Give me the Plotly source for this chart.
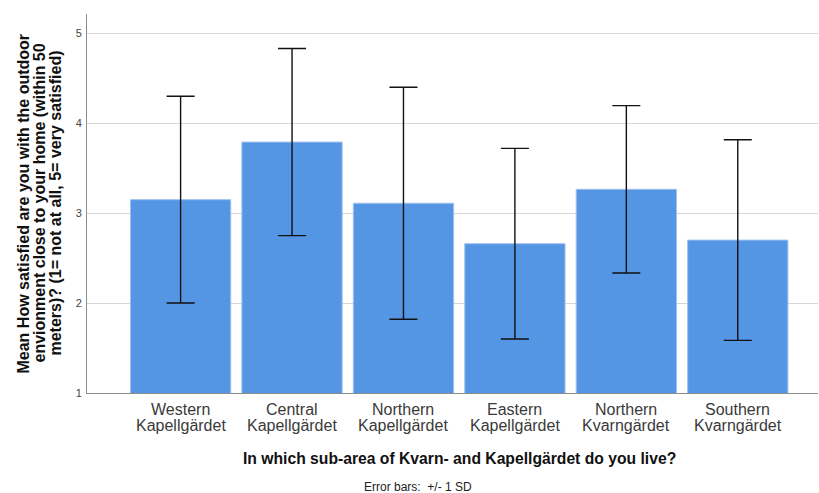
import plotly.graph_objects as go

# Sub-areas (two-line labels) and satisfaction summary (mean, standard deviation)
area_line1 = ["Western", "Central", "Northern", "Eastern", "Northern", "Southern"]
area_line2 = ["Kapellgärdet", "Kapellgärdet", "Kapellgärdet",
              "Kapellgärdet", "Kvarngärdet", "Kvarngärdet"]
means = [3.15, 3.79, 3.11, 2.66, 3.265, 2.70]
sds = [1.15, 1.04, 1.29, 1.06, 0.93, 1.115]
y_ticks = [1, 2, 3, 4, 5]
y_title_lines = ["Mean How satisfied are you with the outdoor",
                 "envionment close to your home (within 50",
                 "meters)? (1= not at all, 5= very satisfied)"]

FONT = "Liberation Sans, Arial, sans-serif"
W, H = 819, 493
ML, MR, MT, MB = 87, 1, 14, 100
PW, PH = W - ML - MR, H - MT - MB


def px_x(p):
    return (p - ML) / PW


def px_y(p):
    return (H - MB - p) / PH


positions = list(range(len(means)))

fig = go.Figure(go.Bar(
    x=positions,
    y=means,
    width=0.9,
    marker=dict(color="#5596e4", line=dict(color="#9fc2ee", width=1)),
    error_y=dict(type="data", array=sds, visible=True, color="#111111",
                 thickness=1.4, width=14),
    hoverinfo="skip",
))

annotations = []
# Category labels, two lines each, placed on the category axis
for i, (a, b) in enumerate(zip(area_line1, area_line2)):
    annotations.append(dict(text=a, xref="x", yref="paper", x=i, y=px_y(409),
                            xanchor="center", yanchor="middle", showarrow=False,
                            font=dict(size=16, color="#3a3a3a", family=FONT)))
    annotations.append(dict(text=b, xref="x", yref="paper", x=i, y=px_y(425),
                            xanchor="center", yanchor="middle", showarrow=False,
                            font=dict(size=16, color="#3a3a3a", family=FONT)))

# Rotated y-axis title, one annotation per line
for line, xc in zip(y_title_lines, [23, 39, 55]):
    annotations.append(dict(text="<b>" + line + "</b>", xref="paper", yref="paper",
                            x=px_x(xc), y=0.5, xanchor="center", yanchor="middle",
                            textangle=-90, showarrow=False,
                            font=dict(size=16, color="#111111", family=FONT)))

annotations.append(dict(text="<b>In which sub-area of Kvarn- and Kapellgärdet do you live?</b>",
                        xref="paper", yref="paper", x=px_x(459), y=px_y(458),
                        xanchor="center", yanchor="middle", showarrow=False,
                        font=dict(size=15.7, color="#111111", family=FONT)))
annotations.append(dict(text="Error bars:  +/- 1 SD",
                        xref="paper", yref="paper", x=px_x(418), y=px_y(487),
                        xanchor="center", yanchor="middle", showarrow=False,
                        font=dict(size=12, color="#222222", family=FONT)))

fig.update_layout(
    width=W, height=H,
    margin=dict(l=ML, r=MR, t=MT, b=MB),
    plot_bgcolor="white", paper_bgcolor="white",
    showlegend=False,
    font=dict(family=FONT, color="#333333"),
    xaxis=dict(
        range=[-0.84, 5.72],
        tickmode="array", tickvals=positions, showticklabels=False,
        showgrid=False, zeroline=False,
        showline=True, linecolor="#8c8c8c", linewidth=1,
        ticks="",
    ),
    yaxis=dict(
        range=[1, 5.214],
        tickmode="array", tickvals=y_ticks,
        tickfont=dict(size=11, color="#444444"),
        showgrid=True, gridcolor="#d6d6d6", gridwidth=1,
        zeroline=False,
        showline=True, linecolor="#8c8c8c", linewidth=1,
        ticks="", ticklabelstandoff=2,
    ),
    annotations=annotations,
)

fig.write_html("out.html")
